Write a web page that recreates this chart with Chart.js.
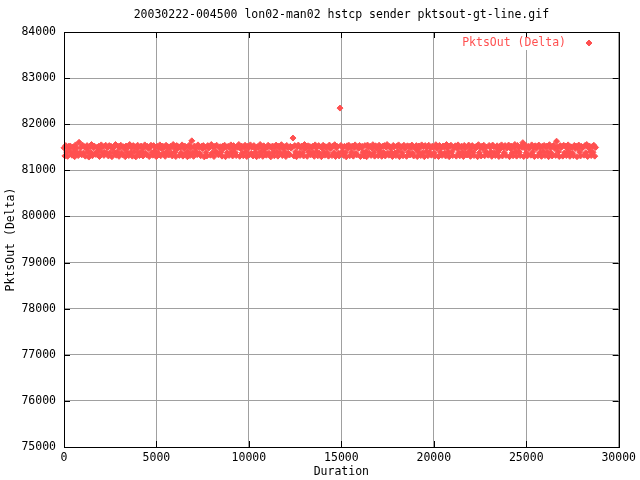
<!DOCTYPE html>
<html>
<head>
<meta charset="utf-8">
<script src="https://cdn.jsdelivr.net/npm/chart.js@4"></script>
<style>
  body { margin: 0; background: #fff; }
  canvas { display: block; }
</style>
</head>
<body>
<canvas id="myChart" width="640" height="480"></canvas>
<script>
const chartTitle = '20030222-004500 lon02-man02 hstcp sender pktsout-gt-line.gif';
const seriesLabel = 'PktsOut (Delta)';
const xTitle = 'Duration';
const yTitle = 'PktsOut (Delta)';

// duration between samples (seconds)
const sampleStep = 48;

// PktsOut delta per sample
const pktsOut = [
  81488,81312,81536,81396,81304,81520,81472,81528,81380,81328,81504,81404,81296,81552,81480,81372,81320,81608,81388,81496,
  81336,81544,81376,81512,81308,81472,81536,81400,81288,81504,81384,81560,81316,81488,81528,81368,81344,81496,81408,81520,
  81300,81480,81552,81380,81512,81324,81392,81544,81372,81496,81312,81536,81388,81520,81296,81472,81504,81384,81560,81328,
  81396,81520,81304,81488,81544,81376,81336,81512,81472,81296,81528,81392,81504,81320,81560,81380,81488,81308,81536,81404,
  81512,81292,81480,81544,81384,81320,81504,81528,81400,81312,81488,81552,81372,81336,81520,81472,81300,81496,81544,81388,
  81328,81536,81408,81504,81296,81520,81380,81488,81552,81316,81472,81528,81368,81496,81304,81544,81396,81512,81332,81480,
  81520,81376,81312,81560,81488,81392,81300,81536,81472,81512,81324,81496,81384,81552,81308,81480,81528,81372,81504,81296,
  81404,81544,81320,81488,81640,81380,81304,81528,81480,81396,81340,81552,81496,81368,81316,81520,81472,81536,81292,81504,
  81388,81312,81536,81480,81504,81328,81560,81376,81496,81300,81520,81408,81544,81372,81336,81488,81512,81392,81308,81528,
  81472,81544,81296,81504,81380,81520,81324,81488,81552,81400,81312,81536,81480,81384,81320,81512,81496,81560,81304,81472,
  81528,81376,81316,81496,81544,81404,81300,81520,81484,81336,81552,81368,81504,81312,81536,81476,81392,81296,81512,81488,
  81320,81560,81396,81508,81304,81532,81472,81380,81328,81496,81544,81372,81516,81292,81484,81528,81388,81316,81500,81548,
  81404,81308,81524,81488,81376,81556,81320,81472,81512,81392,81300,81540,81496,81368,81332,81520,81480,81504,81700,81312,
  81536,81400,81296,81508,81548,81372,81324,81488,81528,81384,81312,81560,81476,81500,81304,81532,81396,81516,81336,81484,
  81520,81380,81304,81552,81492,81408,81316,81536,81368,81508,81296,81480,81544,81392,81328,81512,81488,81376,81308,81548,
  81472,81500,81320,81528,81384,81556,81300,81484,81516,81372,81312,82350,81540,81404,81496,81324,81520,81388,81292,81532,
  81480,81544,81316,81504,81400,81528,81308,81492,81552,81368,81336,81512,81476,81540,81300,81488,81520,81392,81312,81536,
  81404,81296,81548,81500,81376,81520,81324,81484,81556,81380,81308,81532,81472,81508,81316,81544,81396,81492,81304,81524,
  81388,81536,81312,81496,81560,81372,81328,81516,81480,81392,81300,81540,81504,81376,81320,81528,81408,81552,81296,81488,
  81512,81384,81316,81544,81476,81500,81304,81532,81396,81520,81332,81488,81548,81368,81312,81508,81472,81536,81300,81404,
  81528,81488,81320,81552,81380,81512,81296,81536,81408,81500,81316,81544,81392,81484,81328,81524,81496,81372,81308,81556,
  81476,81516,81300,81540,81400,81492,81324,81528,81504,81376,81312,81560,81480,81388,81296,81520,81544,81404,81320,81508,
  81488,81532,81308,81472,81552,81384,81316,81500,81524,81396,81300,81540,81484,81368,81332,81512,81548,81408,81304,81496,
  81536,81392,81320,81508,81480,81528,81296,81556,81380,81492,81312,81524,81472,81544,81316,81400,81504,81372,81328,81540,
  81500,81404,81304,81548,81516,81380,81320,81488,81532,81396,81300,81520,81476,81552,81312,81496,81384,81536,81324,81480,
  81512,81548,81296,81472,81528,81376,81316,81504,81560,81408,81308,81540,81488,81392,81320,81524,81496,81600,81300,81484,
  81536,81384,81312,81520,81480,81504,81328,81552,81400,81496,81300,81532,81472,81516,81316,81548,81380,81488,81304,81524,
  81408,81540,81320,81500,81528,81392,81296,81556,81484,81376,81312,81520,81544,81476,81324,81632,81508,81404,81300,81536,
  81492,81516,81308,81544,81380,81528,81320,81480,81552,81396,81304,81512,81496,81372,81316,81540,81472,81524,81296,81488,
  81548,81400,81312,81520,81484,81504,81328,81536,81384,81560,81300,81492,81528,81408,81320,81512,81392,81544,81308,81496
];

const xTicks = [0, 5000, 10000, 15000, 20000, 25000, 30000];
const yTicks = [75000, 76000, 77000, 78000, 79000, 80000, 81000, 82000, 83000, 84000];

const red = 'rgb(255,80,80)';
const fontFamily = '"DejaVu Sans Mono", "Liberation Mono", monospace';
const fontSize = 11.5;

const points = pktsOut.map((v, i) => ({ x: i * sampleStep, y: v }));

// title, key and gnuplot style border with inward ticks
const gnuplotDecor = {
  id: 'gnuplotDecor',
  beforeDatasetsDraw(chart) {
    const c = chart.ctx;
    c.save();
    c.fillStyle = '#fff';
    c.fillRect(455, chart.chartArea.top + 1, 145, 17);
    c.restore();
  },
  afterDraw(chart) {
    const c = chart.ctx;
    const a = chart.chartArea;
    const xs = chart.scales.x, ys = chart.scales.y;
    c.save();
    c.strokeStyle = '#000';
    c.lineWidth = 1;
    c.beginPath();
    xTicks.forEach(t => {
      const px = Math.round(xs.getPixelForValue(t)) + 0.5;
      c.moveTo(px, a.bottom); c.lineTo(px, a.bottom - 6);
      c.moveTo(px, a.top); c.lineTo(px, a.top + 6);
    });
    yTicks.forEach(t => {
      const py = Math.round(ys.getPixelForValue(t)) + 0.5;
      c.moveTo(a.left, py); c.lineTo(a.left + 6, py);
      c.moveTo(a.right, py); c.lineTo(a.right - 6, py);
    });
    c.stroke();
    c.strokeRect(Math.round(a.left) + 0.5, Math.round(a.top) + 0.5,
      Math.round(a.right - a.left), Math.round(a.bottom - a.top));

    c.font = fontSize + 'px ' + fontFamily;
    c.textBaseline = 'middle';
    c.fillStyle = '#000';
    c.textAlign = 'center';
    c.fillText(chartTitle, (a.left + a.right) / 2, 15);

    c.fillStyle = red;
    c.textAlign = 'right';
    c.fillText(seriesLabel, 566, 43);
    c.strokeStyle = red;
    c.beginPath();
    c.moveTo(589, 40); c.lineTo(592, 43); c.lineTo(589, 46); c.lineTo(586, 43); c.closePath();
    c.fill();
    c.stroke();
    c.restore();
  }
};

new Chart(document.getElementById('myChart'), {
  type: 'scatter',
  data: {
    datasets: [{
      label: seriesLabel,
      data: points,
      pointStyle: 'rectRot',
      pointRadius: 3,
      borderWidth: 1,
      borderColor: red,
      backgroundColor: red,
      clip: false
    }]
  },
  options: {
    responsive: false,
    animation: false,
    events: [],
    layout: { padding: { top: 32, right: 20, left: 0, bottom: 0 } },
    plugins: {
      legend: { display: false },
      title: { display: false },
      tooltip: { enabled: false }
    },
    scales: {
      x: {
        type: 'linear',
        min: 0, max: 30000,
        afterBuildTicks: s => { s.ticks = xTicks.map(v => ({ value: v })); },
        afterFit: s => { s.height = 33; },
        grid: { color: '#a0a0a0', drawTicks: false },
        border: { display: false },
        ticks: { color: '#000', padding: 4, maxRotation: 0, font: { family: fontFamily, size: fontSize }, callback: v => String(v) },
        title: { display: true, text: xTitle, color: '#000', padding: { top: 0, bottom: 1 }, font: { family: fontFamily, size: fontSize } }
      },
      y: {
        type: 'linear',
        min: 75000, max: 84000,
        afterBuildTicks: s => { s.ticks = yTicks.map(v => ({ value: v })); },
        afterFit: s => { s.width = 64; },
        grid: { color: '#a0a0a0', drawTicks: false },
        border: { display: false },
        ticks: { color: '#000', padding: 8, font: { family: fontFamily, size: fontSize }, callback: v => String(v) },
        title: { display: true, text: yTitle, color: '#000', padding: { top: 4, bottom: 0 }, font: { family: fontFamily, size: fontSize } }
      }
    }
  },
  plugins: [gnuplotDecor]
});
</script>
</body>
</html>
